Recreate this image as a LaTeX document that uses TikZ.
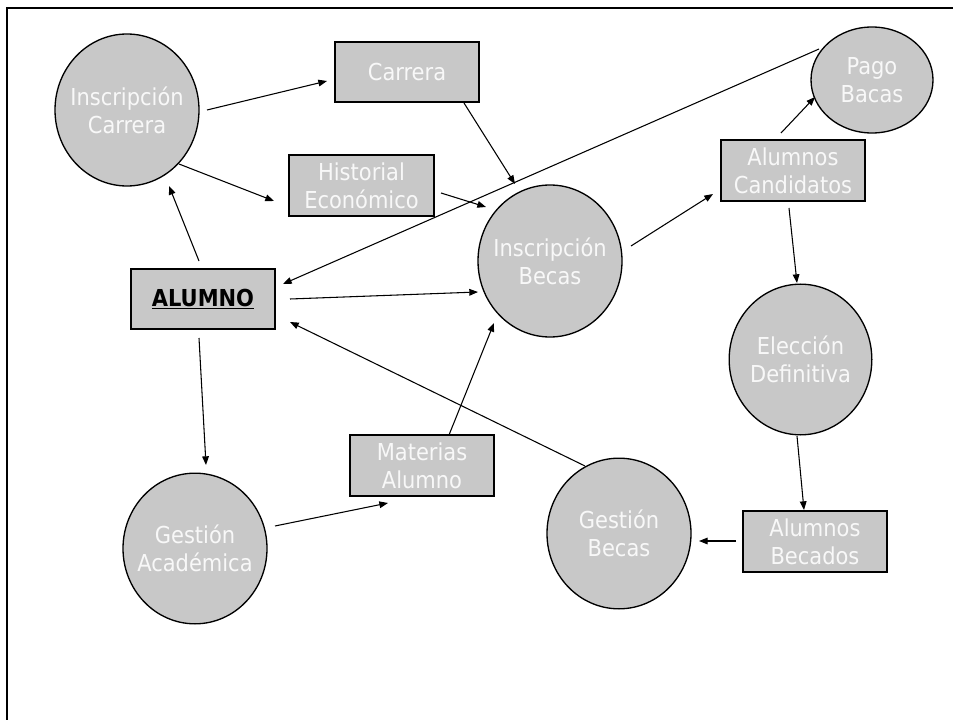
\documentclass[tikz,border=0pt]{standalone}
\usepackage{fontspec}
\setmainfont{DejaVu Sans Condensed}
\usetikzlibrary{calc,arrows.meta,shapes.geometric}
\definecolor{boxgray}{RGB}{200,200,200}
\definecolor{txtwhite}{RGB}{248,248,248}
\tikzset{
  lbl/.style={text=txtwhite,align=center,inner sep=0pt,font=\fontsize{17.5pt}{21pt}\selectfont},
  proc/.style={ellipse,draw=black,line width=1pt,fill=boxgray,inner sep=0pt,
    label={[lbl]center:#1}},
  store/.style={rectangle,draw=black,line width=1.1pt,fill=boxgray,inner sep=0pt,
    text=txtwhite,align=center,font=\fontsize{17.5pt}{21pt}\selectfont},
  flow/.style={draw=black,line width=0.8pt,-{Triangle[length=6.5pt,width=5pt]}}
}
\begin{document}
\begin{tikzpicture}[x=0.75pt,y=-0.75pt]
\useasboundingbox (0,0) rectangle (953,720);
\begin{scope}
\clip (0,0) rectangle (953,720);
\draw[line width=2.2pt] (7,8) rectangle (1000,800);
\end{scope}
% processes
\node[proc={Inscripción\\Carrera},minimum width=108pt,minimum height=114pt] (ic) at (127,110) {};
\node[proc={Inscripción\\Becas},minimum width=108pt,minimum height=114pt] (ib) at (550,261) {};
\node[proc={Pago\\Bacas},minimum width=91.5pt,minimum height=79.5pt] (pago) at (872,80) {};
\node[proc={Elección\\Definitiva},minimum width=107pt,minimum height=113pt] (el) at (800.5,359.5) {};
\node[proc={Gestión\\Becas},minimum width=108pt,minimum height=113pt] (gb) at (619,533.5) {};
\node[proc={Gestión\\Académica},minimum width=108pt,minimum height=113pt] (ga) at (195,548.5) {};
% stores
\node[store,minimum width=108pt,minimum height=45pt] (car) at (407,72) {Carrera};
\node[store,minimum width=108.5pt,minimum height=45.5pt] (hist) at (361.5,185.5) {Historial\\Económico};
\node[store,minimum width=108pt,minimum height=45pt,text=black,font=\fontsize{17.5pt}{21pt}\selectfont\bfseries] (alu) at (203,299) {\underline{ALUMNO}};
\node[store,minimum width=108pt,minimum height=45.5pt] (cand) at (793,170.5) {Alumnos\\Candidatos};
\node[store,minimum width=108pt,minimum height=45.5pt] (bec) at (815,541.5) {Alumnos\\Becados};
\node[store,minimum width=108pt,minimum height=45.5pt] (mat) at (422,465.5) {Materias\\Alumno};
% flows
\draw[flow] ($(ic)+(80,0)$) -- ($(car)+(-80,9)$);
\draw[flow] ($(ic)+(52,54)$) -- ($(hist)+(-87.5,15.5)$);
\draw[flow] ($(alu)+(-4,-38)$) -- ($(ic)+(42,76)$);
\draw[flow] ($(car)+(57,31)$) -- ($(ib)+(-35,-77)$);
\draw[flow] ($(hist)+(79.5,7.5)$) -- ($(ib)+(-64,-54)$);
\draw[flow] ($(pago)+(-53,-31)$) -- ($(alu)+(80,-15)$);
\draw[flow] ($(alu)+(87,0)$) -- ($(ib)+(-72,31)$);
\draw[flow] ($(gb)+(-34,-67.5)$) -- ($(alu)+(87,23)$);
\draw[flow] ($(alu)+(-4,39)$) -- ($(ga)+(11,-83.5)$);
\draw[flow] ($(ga)+(80,-22.5)$) -- ($(mat)+(-34,37.5)$);
\draw[flow] ($(mat)+(27,-30.5)$) -- ($(ib)+(-56,62)$);
\draw[flow] ($(ib)+(81,-15)$) -- ($(cand)+(-80,23.5)$);
\draw[flow] ($(cand)+(-12,-37.5)$) -- ($(pago)+(-57,17)$);
\draw[flow] ($(cand)+(-4,37.5)$) -- ($(el)+(-3.5,-76.5)$);
\draw[flow] ($(el)+(-3.5,76.5)$) -- ($(bec)+(-11,-31.5)$);
\draw[flow] ($(bec)+(-79,-0.5)$) -- ($(gb)+(80,7.5)$);
\end{tikzpicture}
\end{document}
